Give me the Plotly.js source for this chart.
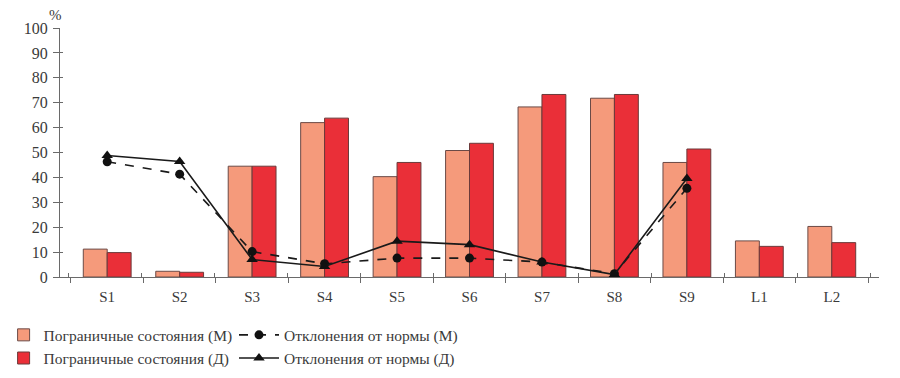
<!DOCTYPE html>
<html>
<head>
<meta charset="utf-8">
<script src="https://cdn.plot.ly/plotly-3.0.1.min.js"></script>
<style>html,body{margin:0;padding:0;background:#fff;}#chart{width:900px;height:378px;}</style>
</head>
<body>
<div id="chart"></div>
<script>
const categories = ["S1","S2","S3","S4","S5","S6","S7","S8","S9","L1","L2"];
const borderM = [11.2, 2.3, 44.5, 62.0, 40.3, 50.8, 68.3, 71.8, 46.0, 14.5, 20.3];
const borderD = [9.8, 1.9, 44.5, 63.8, 46.0, 53.7, 73.3, 73.3, 51.4, 12.3, 13.8];
const deviationM = [46.3, 41.3, 10.2, 5.3, 7.6, 7.6, 6.0, 1.3, 35.6, null, null];
const deviationD = [48.8, 46.4, 7.0, 4.2, 14.4, 13.0, 6.0, 1.0, 39.6, null, null];
const yTicks = [0,10,20,30,40,50,60,70,80,90,100];

const serif = "Liberation Serif, Times New Roman, serif";
const txt = "#3a3a3a";
const axisCol = "#6a6a6a";

const traces = [
  {type:"bar", name:"Пограничные состояния (М)", x:categories, y:borderM,
   marker:{color:"#F59A7B", line:{color:"#6b4a46", width:1}}, legend:"legend"},
  {type:"bar", name:"Пограничные состояния (Д)", x:categories, y:borderD,
   marker:{color:"#EA2F38", line:{color:"#6b3a3a", width:1}}, legend:"legend"},
  {type:"scatter", mode:"lines+markers", name:"Отклонения от нормы (М)", x:categories, y:deviationM,
   line:{color:"#1a1a1a", width:1.6, dash:"dash"}, marker:{symbol:"circle", size:9, color:"#111"},
   connectgaps:false, legend:"legend2"},
  {type:"scatter", mode:"lines+markers", name:"Отклонения от нормы (Д)", x:categories, y:deviationD,
   line:{color:"#1a1a1a", width:1.6}, marker:{symbol:"triangle-up", size:10, color:"#111"},
   connectgaps:false, legend:"legend2"},
  {type:"scatter", mode:"markers", x:categories, y:categories.map(()=>null), xaxis:"x2", yaxis:"y2",
   showlegend:false, hoverinfo:"skip"}
];

const layout = {
  width:900, height:378,
  margin:{l:60, r:21, t:28, b:101, autoexpand:false},
  paper_bgcolor:"#fff", plot_bgcolor:"#fff",
  barmode:"group", bargap:0.34, bargroupgap:0,
  font:{family:serif, color:txt, size:14},
  xaxis:{type:"category", categoryarray:categories, tickson:"boundaries", ticks:"outside", ticklen:5,
         tickcolor:axisCol, showline:true, linecolor:axisCol, linewidth:1, showgrid:false, zeroline:false,
         tickfont:{family:serif, size:15, color:txt}, ticklabelstandoff:6},
  yaxis:{range:[0,100], tickvals:yTicks, ticks:"outside", ticklen:6, tickcolor:axisCol,
         showline:true, linecolor:axisCol, linewidth:1, showgrid:false, zeroline:false,
         tickfont:{family:serif, size:16, color:txt}, ticklabelstandoff:2},
  xaxis2:{type:"category", categoryarray:categories, overlaying:"x", anchor:"y2", side:"bottom",
          tickson:"boundaries", ticks:"inside", ticklen:4, tickcolor:axisCol, showticklabels:false,
          showline:false, showgrid:false, zeroline:false},
  yaxis2:{range:[0,100], tickvals:yTicks, overlaying:"y", side:"left", ticks:"inside", ticklen:3,
          tickcolor:axisCol, showticklabels:false, showline:false, showgrid:false, zeroline:false},
  legend:{x:0.004, y:0.158, xref:"container", yref:"container", xanchor:"left", yanchor:"top",
          orientation:"v", font:{family:serif, size:15.5, color:txt}, tracegroupgap:0, itemwidth:30,
          bgcolor:"rgba(0,0,0,0)"},
  legend2:{x:0.26, y:0.158, xref:"container", yref:"container", xanchor:"left", yanchor:"top",
          orientation:"v", font:{family:serif, size:15.5, color:txt}, tracegroupgap:0, itemwidth:40,
          bgcolor:"rgba(0,0,0,0)"},
  annotations:[{text:"%", xref:"paper", yref:"paper", x:-0.005, y:1.0, yshift:3, showarrow:false,
                xanchor:"center", yanchor:"bottom", font:{family:serif, size:15, color:txt}}]
};

Plotly.newPlot("chart", traces, layout, {displayModeBar:false, staticPlot:true});
</script>
</body>
</html>
